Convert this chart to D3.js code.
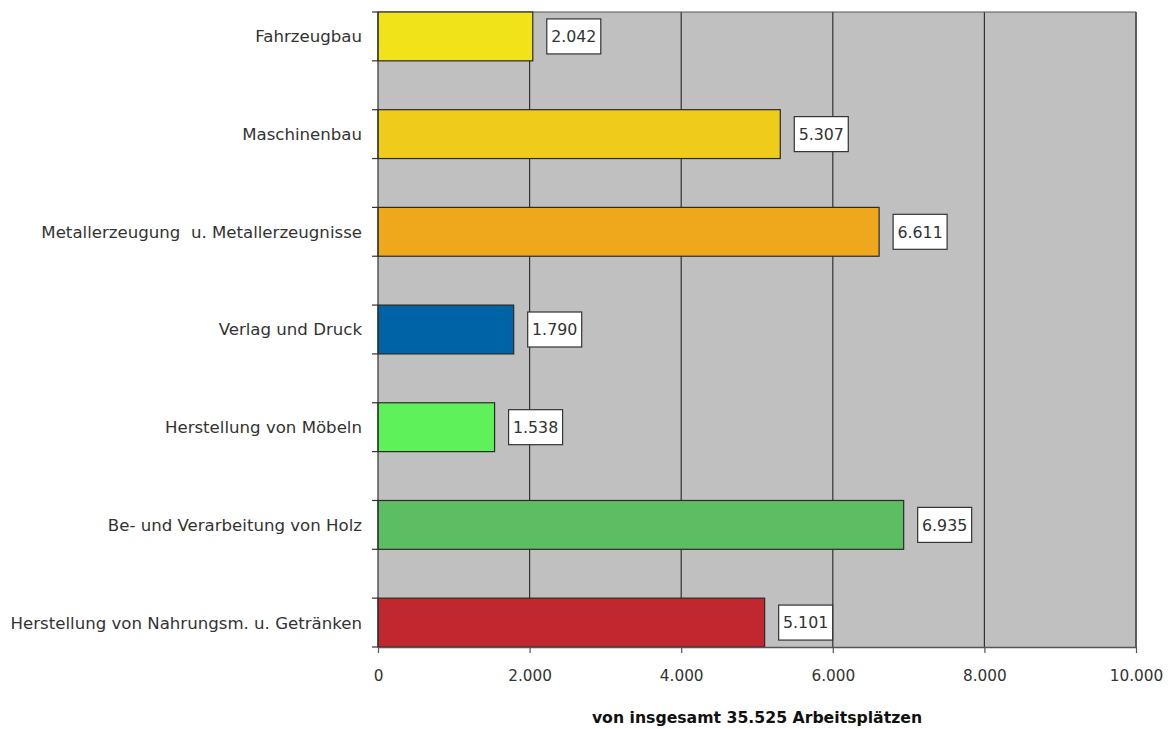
<!DOCTYPE html>
<html>
<head>
<meta charset="utf-8">
<script src="https://cdn.jsdelivr.net/npm/d3@7"></script>
<style>
  html, body { margin: 0; padding: 0; background: #fff; }
  svg { display: block; }
  text { font-family: "DejaVu Sans", Verdana, sans-serif; fill: #222; white-space: pre; }
</style>
</head>
<body>
<svg id="chart" width="1176" height="729"></svg>
<script>
// Arbeitsplätze nach Branchen
const categories = [
  "Fahrzeugbau",
  "Maschinenbau",
  "Metallerzeugung  u. Metallerzeugnisse",
  "Verlag und Druck",
  "Herstellung von Möbeln",
  "Be- und Verarbeitung von Holz",
  "Herstellung von Nahrungsm. u. Getränken"
];
const values = [2042, 5307, 6611, 1790, 1538, 6935, 5101];
const colors = ["#f0e31a", "#f0cc1a", "#efa81c", "#0063a6", "#5ef15a", "#5dbd62", "#c1272e"];
const xTicks = [0, 2000, 4000, 6000, 8000, 10000];
const axisTitle = "von insgesamt 35.525 Arbeitsplätzen";

const fmt = d3.formatLocale({ decimal: ",", thousands: ".", grouping: [3], currency: ["", "€"] }).format(",d");

const svg = d3.select("#chart");
const plot = { left: 378, top: 12, right: 1136, bottom: 647 };

const x = d3.scaleLinear().domain([0, 10000]).range([plot.left, plot.right]);
const y = d3.scaleBand().domain(categories).range([plot.top, plot.bottom])
  .paddingInner(0.5).paddingOuter(0);

// plot background
svg.append("rect")
  .attr("x", plot.left).attr("y", plot.top)
  .attr("width", plot.right - plot.left).attr("height", plot.bottom - plot.top)
  .attr("fill", "#c0c0c0");

// vertical gridlines
svg.append("g").selectAll("line")
  .data(xTicks.slice(1))
  .join("line")
  .attr("x1", d => x(d)).attr("x2", d => x(d))
  .attr("y1", plot.top).attr("y2", plot.bottom)
  .attr("stroke", "#333").attr("stroke-width", 1.2);

// top border
svg.append("line")
  .attr("x1", plot.left).attr("x2", plot.right)
  .attr("y1", plot.top).attr("y2", plot.top)
  .attr("stroke", "#555").attr("stroke-width", 1);

// bars
svg.append("g").selectAll("rect")
  .data(values)
  .join("rect")
  .attr("x", x(0))
  .attr("y", (d, i) => y(categories[i]))
  .attr("width", d => x(d) - x(0))
  .attr("height", y.bandwidth())
  .attr("fill", (d, i) => colors[i])
  .attr("stroke", "#2a2a2a").attr("stroke-width", 1.2);

// value boxes
const lbl = svg.append("g").selectAll("g")
  .data(values)
  .join("g")
  .attr("transform", (d, i) => `translate(${x(d) + 14},${y(categories[i]) + y.bandwidth() / 2})`);
lbl.append("rect")
  .attr("x", 0).attr("y", -17.5).attr("width", 54).attr("height", 35)
  .attr("fill", "#fff").attr("stroke", "#333").attr("stroke-width", 1.2);
lbl.append("text")
  .attr("x", 27).attr("y", 0).attr("dy", "0.36em")
  .attr("text-anchor", "middle")
  .style("font-size", "15.8px").style("fill", "#333")
  .text(d => fmt(d));

// category axis: ticks at each bar edge
const edges = categories.flatMap(c => [y(c), y(c) + y.bandwidth()]);
svg.append("g").selectAll("line")
  .data(edges)
  .join("line")
  .attr("x1", plot.left - 6).attr("x2", plot.left)
  .attr("y1", d => d).attr("y2", d => d)
  .attr("stroke", "#333").attr("stroke-width", 1.2);
svg.append("line")
  .attr("x1", plot.left).attr("x2", plot.left)
  .attr("y1", plot.top).attr("y2", plot.bottom)
  .attr("stroke", "#333").attr("stroke-width", 1.2);
svg.append("g").selectAll("text")
  .data(categories)
  .join("text")
  .attr("x", plot.left - 16)
  .attr("y", d => y(d) + y.bandwidth() / 2)
  .attr("dy", "0.36em")
  .attr("text-anchor", "end")
  .style("font-size", "16.6px").style("fill", "#333")
  .text(d => d);

// value axis
const xAxis = d3.axisBottom(x).tickValues(xTicks).tickSize(6).tickSizeOuter(0).tickPadding(17)
  .tickFormat(d => fmt(d));
const gx = svg.append("g").attr("transform", `translate(0,${plot.bottom})`).call(xAxis);
gx.select(".domain").attr("stroke", "#555").attr("stroke-width", 1.5);
gx.selectAll(".tick line").attr("stroke", "#555").attr("stroke-width", 1.2);
gx.selectAll(".tick text")
  .style("font-family", "'DejaVu Sans', Verdana, sans-serif")
  .style("font-size", "15.3px").style("fill", "#333");

// right border
svg.append("line")
  .attr("x1", plot.right).attr("x2", plot.right)
  .attr("y1", plot.top).attr("y2", plot.bottom)
  .attr("stroke", "#555").attr("stroke-width", 1.5);

svg.append("text")
  .attr("x", (plot.left + plot.right) / 2)
  .attr("y", 723)
  .attr("text-anchor", "middle")
  .style("font-size", "15.7px").style("font-weight", "bold").style("fill", "#111")
  .text(axisTitle);
</script>
</body>
</html>
